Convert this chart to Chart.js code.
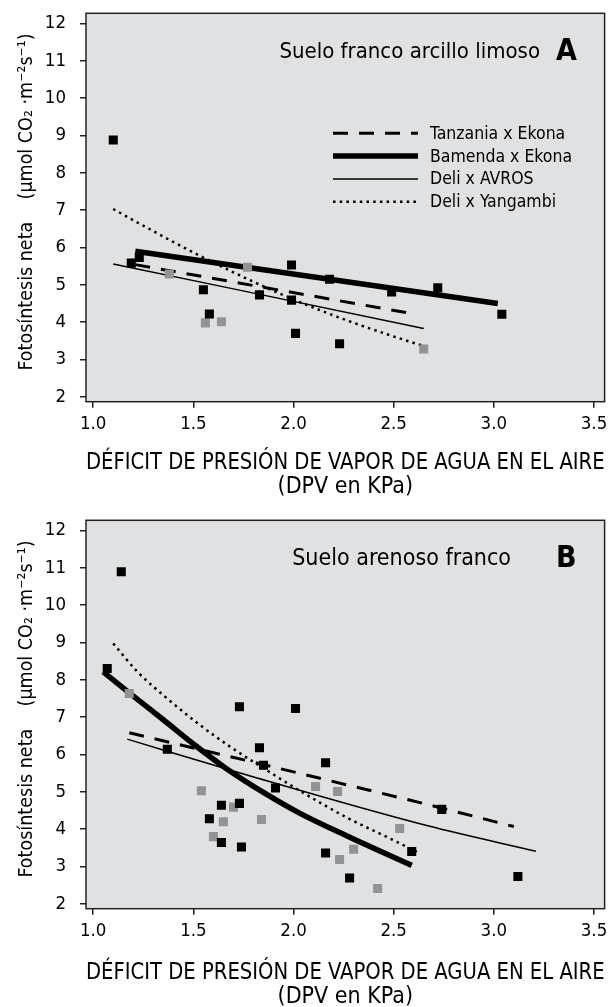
<!DOCTYPE html>
<html>
<head>
<meta charset="utf-8">
<script src="https://cdn.jsdelivr.net/npm/chart.js@4.4.0/dist/chart.umd.min.js"></script>
<style>
  body { margin: 0; background: #fff; }
  .panel { position: absolute; left: 0; width: 611px; height: 500px; }
</style>
</head>
<body>
<div class="panel" style="top:0"><canvas id="chartA"></canvas></div>
<div class="panel" style="top:507px"><canvas id="chartB"></canvas></div>
<script>
// ---- data (x = DPV kPa, y = umol CO2 m-2 s-1) ----
var xTicks = [1.0, 1.5, 2.0, 2.5, 3.0, 3.5];
var yTicks = [2, 3, 4, 5, 6, 7, 8, 9, 10, 11, 12];
var legendNames = ["Tanzania x Ekona", "Bamenda x Ekona", "Deli x AVROS", "Deli x Yangambi"];

// panel A - suelo franco arcillo limoso
var aBlackX = [1.10, 1.19, 1.23, 1.55, 1.58, 1.83, 1.99, 1.99, 2.01, 2.18, 2.23, 2.49, 2.72, 3.04];
var aBlackY = [8.88, 5.58, 5.73, 4.87, 4.22, 4.73, 5.53, 4.59, 3.70, 5.15, 3.42, 4.81, 4.92, 4.21];
var aGrayX = [1.38, 1.56, 1.64, 1.77, 2.65];
var aGrayY = [5.29, 3.98, 4.01, 5.47, 3.28];
var aTanzaniaX = [1.21, 2.57];
var aTanzaniaY = [5.54, 4.25];
var aBamendaX = [1.21, 3.02];
var aBamendaY = [5.90, 4.50];
var aAvrosX = [1.10, 2.65];
var aAvrosY = [5.56, 3.83];
var aYangambiX = [1.10, 1.20, 1.55, 1.95, 2.25, 2.47, 2.65];
var aYangambiY = [7.03, 6.73, 5.73, 4.72, 4.08, 3.67, 3.36];

// panel B - suelo arenoso franco
var bBlackX = [1.07, 1.14, 1.37, 1.58, 1.64, 1.64, 1.73, 1.73, 1.74, 1.83, 1.85, 1.91, 2.01, 2.16, 2.16, 2.28, 2.59, 2.74, 3.12];
var bBlackY = [8.30, 10.89, 6.14, 4.28, 4.64, 3.64, 7.28, 4.69, 3.52, 6.18, 5.71, 5.10, 7.23, 5.78, 3.36, 2.69, 3.40, 4.53, 2.73];
var bGrayX = [1.18, 1.54, 1.60, 1.65, 1.70, 1.84, 2.11, 2.22, 2.23, 2.30, 2.42, 2.53];
var bGrayY = [7.63, 5.03, 3.80, 4.20, 4.59, 4.26, 5.14, 5.01, 3.19, 3.46, 2.41, 4.02];
var bTanzaniaX = [1.18, 1.78, 2.67, 3.10];
var bTanzaniaY = [6.58, 5.82, 4.66, 4.07];
var bBamendaX = [1.05, 1.18, 1.35, 1.51, 1.66, 1.86, 2.03, 2.27, 2.59];
var bBamendaY = [8.21, 7.65, 6.93, 6.24, 5.64, 4.95, 4.43, 3.81, 3.03];
var bAvrosX = [1.17, 1.78, 2.67, 3.21];
var bAvrosY = [6.41, 5.43, 4.09, 3.41];
var bYangambiX = [1.10, 1.22, 1.38, 1.53, 1.68, 1.83, 2.04, 2.27, 2.47, 2.62];
var bYangambiY = [8.97, 8.22, 7.45, 6.80, 6.22, 5.70, 5.00, 4.30, 3.78, 3.38];

var FAM = "'Liberation Sans Narrow', 'DejaVu Sans Condensed', 'Liberation Sans', sans-serif";
Chart.defaults.font.family = FAM;
Chart.defaults.color = "#000";

function pts(xs, ys) {
  return xs.map(function (x, i) { return { x: x, y: ys[i] }; });
}

function pointSet(xs, ys, color) {
  return {
    label: "pts",
    data: pts(xs, ys),
    pointStyle: "rect",
    pointRadius: 6.4,
    pointBorderWidth: 0,
    backgroundColor: color,
    showLine: false,
  };
}

function lineSet(name, xs, ys, width, dash, smooth) {
  return {
    label: name,
    data: pts(xs, ys),
    showLine: true,
    pointRadius: 0,
    borderColor: "#000",
    borderWidth: width,
    borderDash: dash,
    borderCapStyle: "butt",
    tension: smooth ? 0.4 : 0,
    cubicInterpolationMode: smooth ? "monotone" : "default",
    fill: false,
  };
}

// background, frame, panel caption and legend
var panelPlugin = {
  id: "panel",
  beforeDraw: function (chart) {
    var a = chart.chartArea, ctx = chart.ctx;
    ctx.save();
    ctx.fillStyle = "#e0e1e3";
    ctx.fillRect(a.left, a.top, a.right - a.left, a.bottom - a.top);
    ctx.restore();
  },
  afterDraw: function (chart, args, opts) {
    var a = chart.chartArea, ctx = chart.ctx;
    ctx.save();
    ctx.strokeStyle = "#222";
    ctx.lineWidth = 1.5;
    ctx.strokeRect(a.left, a.top, a.right - a.left, a.bottom - a.top);

    ctx.fillStyle = "#000";
    ctx.textBaseline = "middle";
    ctx.textAlign = "right";
    ctx.font = opts.captionSize + "px " + FAM;
    ctx.fillText(opts.caption, opts.captionRight, a.top + 39);
    ctx.textAlign = "left";
    ctx.font = "bold 30px " + FAM;
    ctx.fillText(opts.letter, 556, a.top + 39);

    if (opts.legend) {
      ctx.font = "17.5px " + FAM;
      legendNames.forEach(function (name, i) {
        var ds = chart.data.datasets.find(function (d) { return d.label === name; });
        var y = a.top + 120 + i * 22.8;
        ctx.beginPath();
        ctx.setLineDash(ds.borderDash || []);
        ctx.lineWidth = ds.borderWidth;
        ctx.strokeStyle = "#000";
        ctx.moveTo(333, y);
        ctx.lineTo(418, y);
        ctx.stroke();
        ctx.setLineDash([]);
        ctx.fillText(name, 430, y + 1);
      });
    }
    ctx.restore();
  },
};

function makeChart(id, c, opts) {
  return new Chart(document.getElementById(id), {
    type: "scatter",
    data: {
      datasets: [
        pointSet(c.blackX, c.blackY, "#000"),
        pointSet(c.grayX, c.grayY, "#929395"),
        lineSet(legendNames[0], c.tanX, c.tanY, 3, [15, 11], false),
        lineSet(legendNames[1], c.bamX, c.bamY, 5.5, [], true),
        lineSet(legendNames[2], c.avrX, c.avrY, 1.5, [], true),
        lineSet(legendNames[3], c.yanX, c.yanY, 2.5, [2.5, 4.2], true),
      ],
    },
    options: {
      responsive: true,
      maintainAspectRatio: false,
      animation: false,
      events: [],
      layout: { padding: { top: 13.3, right: 3.7, left: 0, bottom: 0 } },
      plugins: {
        legend: { display: false },
        tooltip: { enabled: false },
        panel: opts,
      },
      scales: {
        x: {
          type: "linear",
          min: 0.964,
          max: 3.553,
          afterBuildTicks: function (s) { s.ticks = xTicks.map(function (v) { return { value: v }; }); },
          afterFit: function (s) { s.height = 98.3; s.paddingLeft = 0; s.paddingRight = 0; },
          grid: { drawOnChartArea: false, drawTicks: true, tickLength: 6, color: "#222", lineWidth: 1.5 },
          border: { display: false },
          ticks: {
            padding: 5,
            font: { size: 18.5 },
            callback: function (v) { return v.toFixed(1); },
          },
          title: {
            display: true,
            text: ["DÉFICIT DE PRESIÓN DE VAPOR DE AGUA EN EL AIRE", "(DPV en KPa)"],
            font: { size: 23, lineHeight: 1.05 },
            padding: { top: 0, bottom: opts.titlePad },
          },
        },
        y: {
          type: "linear",
          min: 1.87,
          max: 12.27,
          afterBuildTicks: function (s) { s.ticks = yTicks.map(function (v) { return { value: v }; }); },
          afterFit: function (s) { s.width = 86; s.paddingTop = 0; s.paddingBottom = 0; },
          grid: { drawOnChartArea: false, drawTicks: true, tickLength: 6, color: "#222", lineWidth: 1.5 },
          border: { display: false },
          ticks: { padding: 14, font: { size: 18.5 } },
          title: {
            display: true,
            text: "  Fotosíntesis neta    (µmol CO₂ ·m⁻²s⁻¹)",
            font: { size: 19.5, lineHeight: 1.2 },
            padding: { top: 15, bottom: 0 },
          },
        },
      },
    },
    plugins: [panelPlugin],
  });
}

makeChart("chartA", {
  blackX: aBlackX, blackY: aBlackY, grayX: aGrayX, grayY: aGrayY,
  tanX: aTanzaniaX, tanY: aTanzaniaY, bamX: aBamendaX, bamY: aBamendaY,
  avrX: aAvrosX, avrY: aAvrosY, yanX: aYangambiX, yanY: aYangambiY,
}, { caption: "Suelo franco arcillo limoso", captionSize: 22, captionRight: 540, letter: "A", legend: true, titlePad: 1 });

makeChart("chartB", {
  blackX: bBlackX, blackY: bBlackY, grayX: bGrayX, grayY: bGrayY,
  tanX: bTanzaniaX, tanY: bTanzaniaY, bamX: bBamendaX, bamY: bBamendaY,
  avrX: bAvrosX, avrY: bAvrosY, yanX: bYangambiX, yanY: bYangambiY,
}, { caption: "Suelo arenoso franco", captionSize: 23, captionRight: 511, letter: "B", legend: false, titlePad: -2 });
</script>
</body>
</html>
